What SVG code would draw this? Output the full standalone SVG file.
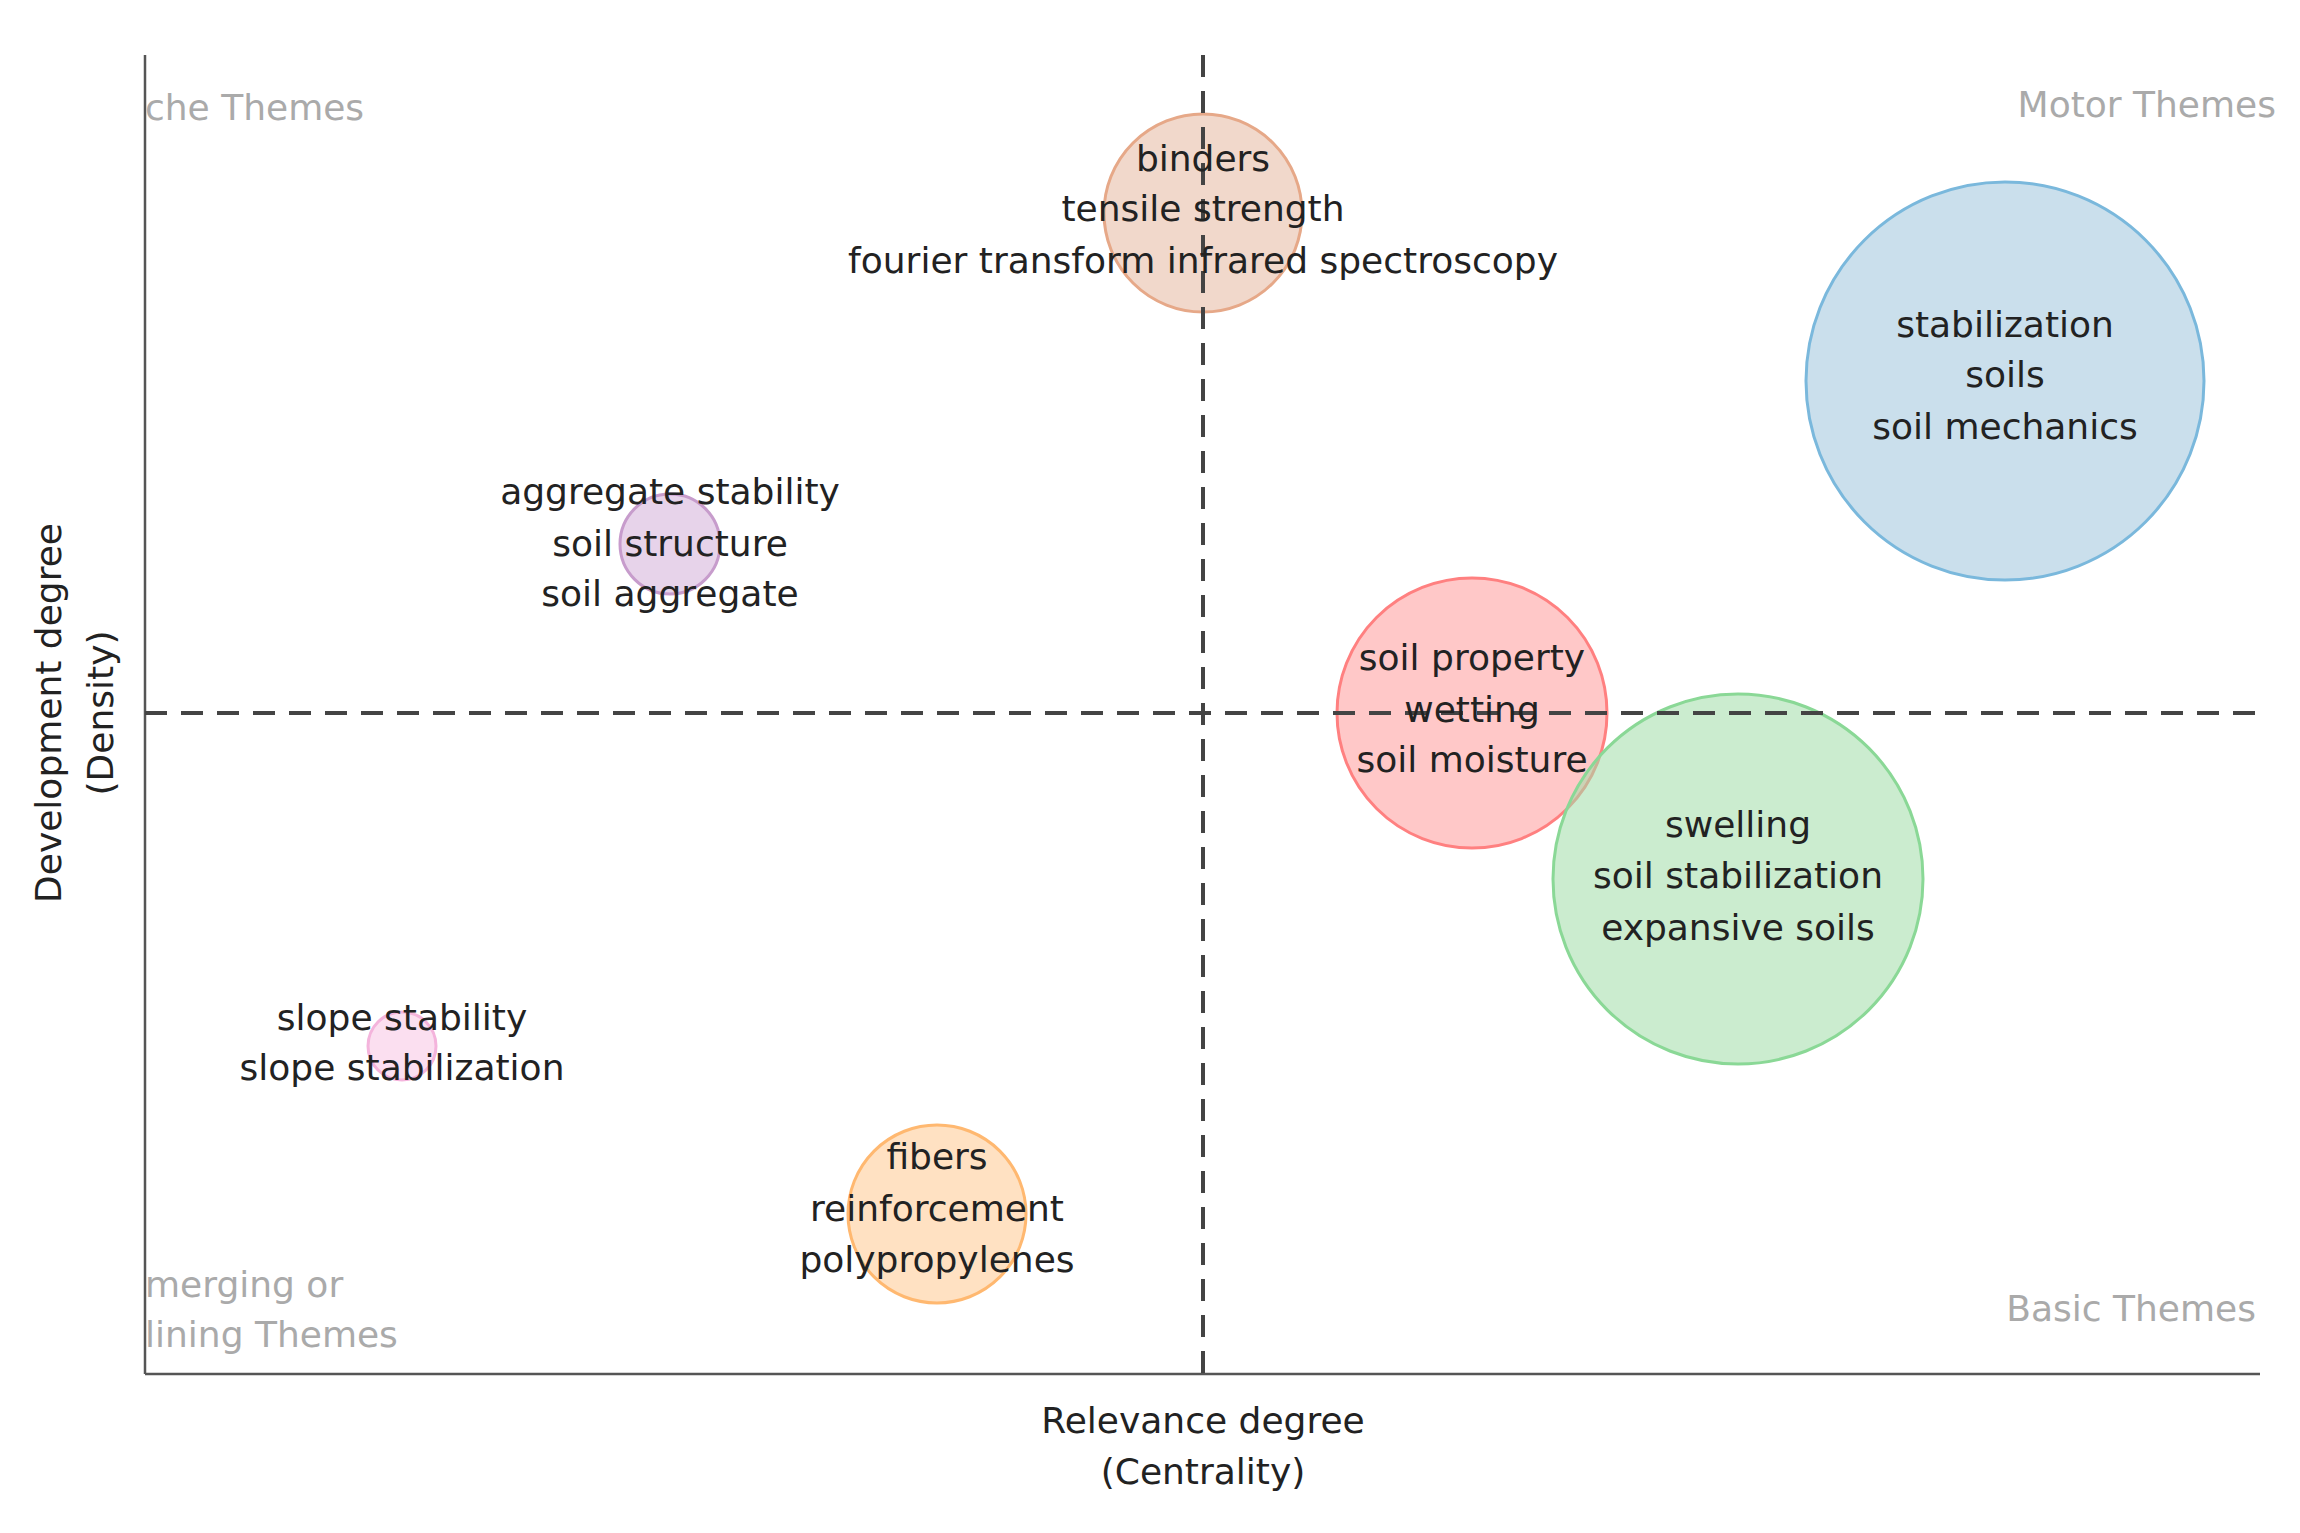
<svg xmlns="http://www.w3.org/2000/svg" width="2300" height="1533" viewBox="0 0 2300 1533">
<style>
.t{font-family:"DejaVu Sans",Verdana,sans-serif;font-size:36px;fill:#222;text-anchor:middle}
.q{font-family:"DejaVu Sans",Verdana,sans-serif;font-size:36px;fill:#aaa}
.ax{stroke:#555;stroke-width:2.5;fill:none}
.d{stroke:#444;stroke-width:4;stroke-dasharray:22,14;fill:none}
.c{fill-opacity:0.55;stroke-width:3}
</style>
<rect width="2300" height="1533" fill="#fff"/>
<g id="bubbles">
<g id="n-binders"><circle class="c" cx="1203" cy="213" r="99" fill="#e6b8a0" stroke="#e6a888"/></g>
<g id="n-stab"><circle class="c" cx="2005" cy="381" r="199" fill="#9ec5dc" stroke="#7ab8dc"/></g>
<g id="n-agg"><circle class="c" cx="670" cy="544" r="50" fill="#d4aed8" stroke="#c79ccc"/></g>
<g id="n-prop"><circle class="c" cx="1472" cy="713" r="135" fill="#ff9a9a" stroke="#ff8080"/></g>
<g id="n-swell"><circle class="c" cx="1738" cy="879" r="185" fill="#a0dca8" stroke="#8ad896"/></g>
<g id="n-slope"><circle class="c" cx="402" cy="1046" r="34" fill="#f8c4e4" stroke="#f4b4dc"/></g>
<g id="n-fibers"><circle class="c" cx="937" cy="1214" r="89" fill="#ffc890" stroke="#ffb870"/></g>
</g>
<g id="connectors">
<line class="ax" x1="145" y1="55" x2="145" y2="1374"/>
<line class="ax" x1="145" y1="1374" x2="2260" y2="1374"/>
<line class="d" x1="1203" y1="55" x2="1203" y2="1374"/>
<line class="d" x1="145" y1="713" x2="2260" y2="713"/>
</g>
<g id="labels">
<text class="t" x="1203" y="171">binders</text>
<text class="t" x="1203" y="221">tensile strength</text>
<text class="t" x="1203" y="273">fourier transform infrared spectroscopy</text>
<text class="t" x="2005" y="337">stabilization</text>
<text class="t" x="2005" y="387">soils</text>
<text class="t" x="2005" y="439">soil mechanics</text>
<text class="t" x="670" y="504">aggregate stability</text>
<text class="t" x="670" y="556">soil structure</text>
<text class="t" x="670" y="606">soil aggregate</text>
<text class="t" x="1472" y="670">soil property</text>
<text class="t" x="1472" y="722">wetting</text>
<text class="t" x="1472" y="772">soil moisture</text>
<text class="t" x="1738" y="837">swelling</text>
<text class="t" x="1738" y="888">soil stabilization</text>
<text class="t" x="1738" y="940">expansive soils</text>
<text class="t" x="402" y="1030">slope stability</text>
<text class="t" x="402" y="1080">slope stabilization</text>
<text class="t" x="937" y="1169">fibers</text>
<text class="t" x="937" y="1221">reinforcement</text>
<text class="t" x="937" y="1272">polypropylenes</text>
<text class="q" x="145" y="120">che Themes</text>
<text class="q" x="2276" y="117" text-anchor="end">Motor Themes</text>
<text class="q" x="145" y="1297">merging or</text>
<text class="q" x="145" y="1347">lining Themes</text>
<text class="q" x="2256" y="1321" text-anchor="end">Basic Themes</text>
<text class="t" x="1203" y="1433">Relevance degree</text>
<text class="t" x="1203" y="1484">(Centrality)</text>
<text class="t" transform="translate(61,713) rotate(-90)">Development degree</text>
<text class="t" transform="translate(113,713) rotate(-90)">(Density)</text>
</g>
</svg>
